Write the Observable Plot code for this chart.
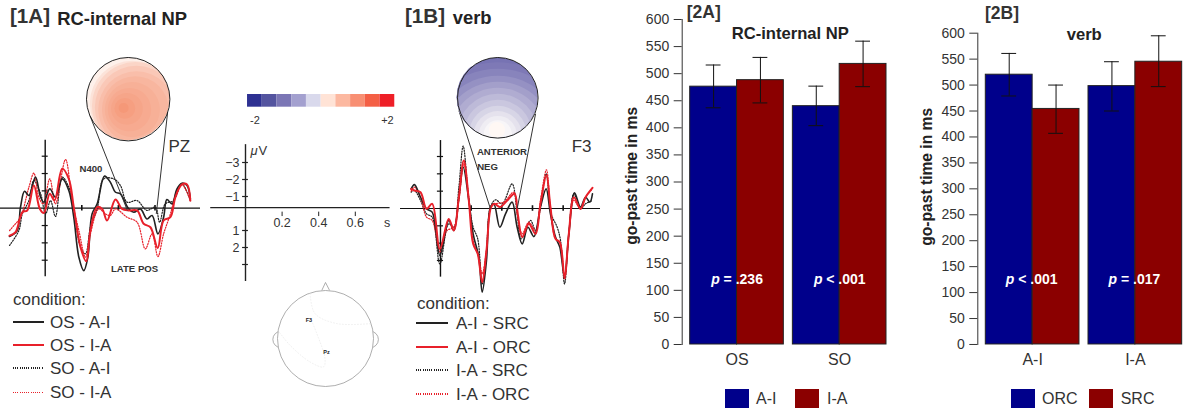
<!DOCTYPE html>
<html><head><meta charset="utf-8">
<style>
html,body{margin:0;padding:0;background:#fff}
#fig{position:relative;width:1184px;height:410px;overflow:hidden;font-family:"Liberation Sans",Arial,sans-serif;color:#333}
#fig svg{position:absolute;overflow:visible}
.t{position:absolute;white-space:nowrap;line-height:1}
.b{font-weight:bold}
.sw{position:absolute}
</style>
<script src="https://cdn.jsdelivr.net/npm/d3@7"></script>
<script src="https://cdn.jsdelivr.net/npm/@observablehq/plot@0.6"></script>
</head><body><div id="fig"></div>
<script>
// ---------- ERP curves, time in s, amplitude in microvolt (negative up) ----------
const a_os_ai_t=[-.195,-.153,-.135,-.113,-.089,-.053,-.025,-.007,.025,.056,.093,.129,.156,.184,.211,.233,.256,.284,.324,.356,.384,.411,.456,.484,.52,.556,.584,.616,.647,.665,.693,.72,.747,.775,.793];
const a_os_ai_v=[1.63,1.29,-.06,-.98,-.73,-1.79,-.63,-.35,-1.12,-.63,-1.69,-1.02,.52,2.83,3.6,2.83,.33,-.25,-1.85,-1.5,-.92,-.83,.04,.23,.04,.62,.42,1.48,.52,-.5,-.25,-1.12,-1.44,-1.31,-.54];
const a_os_ia_t=[-.195,-.162,-.125,-.098,-.062,-.029,-.007,.025,.051,.093,.129,.156,.193,.224,.247,.284,.311,.338,.384,.42,.456,.502,.538,.575,.615,.647,.684,.711,.747,.775,.793];
const a_os_ia_v=[1.58,1.38,.23,.13,-1.31,.04,.27,-.83,-.44,-2.27,-1.69,-.06,2.25,3.06,1.29,-.06,.04,.71,-.5,.04,.13,.13,.9,1.1,2.29,.71,.52,-.63,-1.37,-1.37,-.44];
const a_so_ai_t=[-.195,-.144,-.125,-.089,-.062,-.025,.002,.029,.056,.093,.129,.16,.193,.22,.247,.284,.32,.375,.411,.447,.502,.556,.602,.625,.656,.702,.747,.793];
const a_so_ai_v=[2.15,1.29,.33,-.44,-1.6,-.83,.33,-.44,.48,-1.79,-1.21,.33,2.25,2.63,1.1,.04,-1.69,-1.69,-1.31,-.35,-.44,.13,-.06,.81,-.25,-.44,-1.4,-.44];
const a_so_ia_t=[-.195,-.171,-.135,-.089,-.062,-.035,-.011,.025,.056,.111,.147,.184,.22,.247,.293,.329,.356,.384,.447,.502,.547,.584,.616,.647,.684,.72,.747,.793];
const a_so_ia_v=[1.29,1,.52,-1.21,-2.02,-.63,-.25,-1.69,-.25,-2.81,-.44,1.29,2.83,1.48,.04,.33,.42,.04,.52,.81,2.35,1.48,2.79,1.48,.33,-1.02,-1.37,-.44];

const b_ai_src_t=[-.191,-.17,-.13,-.091,-.054,-.004,.054,.087,.12,.148,.185,.213,.25,.272,.3,.326,.348,.387,.424,.467,.5,.533,.57,.609,.652,.689,.717,.75,.778,.809,.837,.874,.913,.946,.974,.991];
const b_ai_src_v=[-1.13,-1.38,-.65,.02,.21,2.71,.69,1.27,-.65,-2.38,-.46,1.46,2.81,4.83,3,-.08,-.27,1.08,.31,-.37,1.08,2.04,1.08,1.62,-.08,-1.13,.31,1.65,2.23,3.96,1.46,-.9,-.08,-.65,-.37,-.85];
const b_ai_orc_t=[-.191,-.17,-.13,-.091,-.054,-.004,.054,.087,.12,.152,.185,.213,.243,.272,.3,.33,.352,.387,.435,.483,.504,.533,.576,.62,.652,.691,.717,.75,.778,.809,.837,.87,.913,.946,.991];
const b_ai_orc_v=[-1.13,-1.04,-.94,.02,-.27,2.33,.6,1.27,-.65,-2.77,-.46,2.04,2.62,4.25,2.42,-.08,-.27,-.08,-.46,-.85,.31,1.65,.88,1.46,-.27,-1.9,-.08,1.75,1.94,3.96,1.46,-.65,.02,-.65,-1.19];
const b_ia_src_t=[-.191,-.17,-.13,-.091,-.054,-.004,.054,.087,.12,.148,.185,.213,.243,.272,.3,.326,.359,.402,.467,.5,.526,.587,.62,.652,.689,.722,.761,.783,.809,.837,.87,.913,.946,.991];
const b_ia_src_v=[-.94,-1.04,-.46,.31,.5,3.19,.88,1.08,-1.23,-3.6,-.46,1.08,1.75,4.35,2.42,-.08,-.5,-.27,-1.42,.31,1.75,.69,1.27,-.08,-2,.31,1.08,1.85,4.35,1.46,-.85,.02,-.27,-.46];
const b_ia_orc_t=[-.191,-.17,-.13,-.091,-.054,-.004,.043,.087,.12,.152,.185,.213,.25,.272,.3,.33,.359,.413,.478,.504,.533,.576,.62,.652,.691,.717,.75,.778,.809,.837,.87,.913,.946,.991];
const b_ia_orc_v=[-1,-1.23,-.65,.5,.69,2.52,1.27,1.08,-.46,-2.58,-.65,1.85,2.81,3.77,2.42,-.08,-.27,-.37,-.94,.5,1.46,.79,1.27,-.46,-2.23,-.08,1.75,1.94,4.06,1.46,-.46,.02,-.65,-1.13];

const aYTicks=[-3,-2,-1,1,2,3], aXTicks=[.2,.4,.6], bXTicks=[.2,.4,.6,.8];
// leader lines from topography to time window
const aLeadT1=[.244,.669], aLeadV1=[-5.35,-5.54], aLeadT2=[.449,.607], aLeadV2=[.13,.33];
const bLeadT1=[.12,.62], bLeadV1=[-5.65,-5.46], bLeadT2=[.326,.5], bLeadV2=[.02,.02];
const aNotes=["N400","LATE POS"], aNoteT=[.25,.488], aNoteV=[-2.29,3.48];
const bNotes=["ANTERIOR","NEG"], bNoteT=[.401,.307], bNoteV=[-3.29,-2.42];

// ---------- topography bands (head units) ----------
const topoA_x=[0,.1,.18,.2,.2,.17,.1,.03,-.03,-.08,-.11];
const topoA_y=[0,-.1,-.16,-.2,-.25,-.25,-.25,-.25,-.23,-.22,-.21];
const topoA_r=[1,1.02,1.05,1,.92,.8,.66,.52,.38,.25,.12];
const topoA_v=[.12,.26,.4,.52,.62,.7,.76,.82,.87,.93,1];
const topoB_x=[0,0,0,0,0,0,0,0,0,0,0,0,-.02];
const topoB_y=[0,-1.32,-1.18,-1.05,-1,-.95,-.9,-.9,-.92,-.93,-.92,-.91,-.8];
const topoB_r=[1,2.2,1.9,1.6,1.4,1.2,1,.85,.72,.6,.47,.35,.2];
const topoB_v=[-1.05,-.98,-.9,-.8,-.7,-.6,-.5,-.4,-.3,-.2,-.12,-.05,.05];
const topoDomain=[-2,-1,0,1,2];

// ---------- colour bar ----------
const barSteps=[-1.8,-1.4,-1,-.6,-.2,.2,.6,1,1.4,1.8];

// ---------- bar charts ----------
const g2A=["OS","SO"], s2A=["A-I","I-A"];
const m2A_AI=[476,440], m2A_IA=[488,518];
const lo2A_AI=[437,404], lo2A_IA=[446,476];
const hi2A_AI=[516,477], hi2A_IA=[530,560];
const p2A_rel=["= .236","< .001"];
const g2B=["A-I","I-A"], s2B=["ORC","SRC"];
const m2B_ORC=[520,498], m2B_SRC=[454,545];
const lo2B_ORC=[479,450], lo2B_SRC=[407,497];
const hi2B_ORC=[561,545], hi2B_SRC=[500,595];
const p2B_rel=["< .001","= .017"];
const yTicks=[0,50,100,150,200,250,300,350,400,450,500,550,600];

const fig=document.getElementById("fig");
const FONT='"Liberation Sans",Arial,sans-serif';
function add(svg,left,top){svg.style.left=left+"px";svg.style.top=top+"px";fig.appendChild(svg);return svg}
function text(s,left,cy,size,opts={}){const d=document.createElement("div");d.className="t"+(opts.bold?" b":"");d.textContent=s;d.style.left=left+"px";d.style.top=(cy-size/2)+"px";d.style.fontSize=size+"px";if(opts.color)d.style.color=opts.color;fig.appendChild(d);return d}
function swatchLine(left,cy,w,color,dotted){const d=document.createElement("div");d.className="sw";d.style.cssText+=`left:${left}px;top:${cy-1}px;width:${w}px;height:${dotted?1.5:1.7}px;background:${dotted?`repeating-linear-gradient(90deg,${color} 0 1px,transparent 1px 2.2px)`:color}`;fig.appendChild(d)}
function swatchBox(left,top,w,h,color){const d=document.createElement("div");d.className="sw";d.style.cssText+=`left:${left}px;top:${top}px;width:${w}px;height:${h}px;background:${color}`;fig.appendChild(d)}
const zip=(t,v)=>t.map((x,i)=>({t:x,v:v[i]}));
const baseStyle={background:"transparent",fontFamily:FONT,color:"#333"};

function erp(cfg){
  const lc={curve:"catmull-rom",x:"t",y:"v"};
  return Plot.plot({
    width:cfg.w,height:312,margin:0,style:baseStyle,
    x:{domain:cfg.xd,range:cfg.xr,axis:null},
    y:{domain:[-12,6],range:cfg.yr,axis:null},
    marks:[
      Plot.ruleY([0],{stroke:"#111",strokeWidth:1.2}),
      Plot.ruleX([0],{y1:-3.92,y2:3.96,stroke:"#111",strokeWidth:1.4}),
      Plot.ruleY(aYTicks,{x1:-cfg.htick,x2:cfg.htick,stroke:"#111",strokeWidth:1.2}),
      Plot.ruleX(cfg.xticks,{y1:-.16,y2:.16,stroke:"#111",strokeWidth:1.6}),
      Plot.line(zip(...cfg.dk),{...lc,stroke:"#222",strokeWidth:1.2,strokeDasharray:"1.2,1.5"}),
      Plot.line(zip(...cfg.dr),{...lc,stroke:"#e8202a",strokeWidth:1.2,strokeDasharray:"1.2,1.5"}),
      Plot.line(zip(...cfg.sk),{...lc,stroke:"#222",strokeWidth:1.6}),
      Plot.line(zip(...cfg.sr),{...lc,stroke:"#e8202a",strokeWidth:2}),
      Plot.link(cfg.lead[0],{x1:(d,i)=>cfg.lead[0][i],y1:(d,i)=>cfg.lead[1][i],x2:(d,i)=>cfg.lead[2][i],y2:(d,i)=>cfg.lead[3][i],stroke:"#333",strokeWidth:1}),
      Plot.text(cfg.notes,{x:(d,i)=>cfg.noteT[i],y:(d,i)=>cfg.noteV[i],text:d=>d,fontSize:9.6,fontWeight:"bold",fill:"#333",textAnchor:"middle"}),
      Plot.text([cfg.site],{x:cfg.siteT,y:-3.56,text:d=>d,fontSize:17,fill:"#333"})
    ]});
}
add(erp({w:200,xd:[-.2,.795],xr:[8.1,190.2],yr:[-.3,311.7],htick:.0164,xticks:aXTicks,
  sk:[a_os_ai_t,a_os_ai_v],sr:[a_os_ia_t,a_os_ia_v],dk:[a_so_ai_t,a_so_ai_v],dr:[a_so_ia_t,a_so_ia_v],
  lead:[aLeadT1,aLeadV1,aLeadT2,aLeadV2],notes:aNotes,noteT:aNoteT,noteV:aNoteV,site:"PZ",siteT:.733}),0,0);
add(erp({w:200,xd:[-.2,.99],xr:[9.3,191.8],yr:[0,312],htick:.02,xticks:bXTicks,
  sk:[b_ai_src_t,b_ai_src_v],sr:[b_ai_orc_t,b_ai_orc_v],dk:[b_ia_src_t,b_ia_src_v],dr:[b_ia_orc_t,b_ia_orc_v],
  lead:[bLeadT1,bLeadV1,bLeadT2,bLeadV2],notes:bNotes,noteT:bNoteT,noteV:bNoteV,site:"F3",siteT:.92}),400,0);

function topo(xs,ys,rs,vs,R){
  const rows=rs.map((r,i)=>({x:xs[i],y:ys[i],r,v:vs[i]}));
  const size=2*R+4;
  const fills=Plot.plot({width:size,height:size,margin:2,style:baseStyle,
    x:{domain:[-1,1],axis:null},y:{domain:[-1,1],axis:null},
    r:{type:"linear",domain:[0,1],range:[0,R]},
    color:{type:"linear",domain:topoDomain,range:["#2e3192","#7b76b5","#fffdfb","#f59878","#ee1f27"],interpolate:"rgb"},
    marks:[ Plot.dot(rows,{x:"x",y:"y",r:"r",fill:"v",sort:null}) ]});
  fills.style.clipPath=`circle(${R}px at 50% 50%)`;
  const ring=Plot.plot({width:size,height:size,margin:2,style:baseStyle,
    x:{domain:[-1,1],axis:null},y:{domain:[-1,1],axis:null},
    r:{type:"linear",domain:[0,1],range:[0,R]},
    marks:[ Plot.dot(rows.slice(0,1),{x:"x",y:"y",r:"r",stroke:"#222",strokeWidth:1}) ]});
  return [fills,ring];
}
topo(topoA_x,topoA_y,topoA_r,topoA_v,41.7).forEach(s=>add(s,127.7-43.7,98.3-43.7));
topo(topoB_x,topoB_y,topoB_r,topoB_v,40.3).forEach(s=>add(s,497-42.3,97.3-42.3));

// ---------- colour bar ----------
add(Plot.plot({width:147.3,height:34,marginTop:0,marginLeft:0,marginRight:0,marginBottom:21.3,style:baseStyle,
  x:{domain:barSteps,padding:0,round:false,label:null},
  color:{type:"ordinal",domain:barSteps,range:["#2e3192","#54549f","#7b76b5","#a3a0cf","#d9d9ec","#ffe3d6","#fcb8a0","#f88f73","#f45f45","#ee1f27"]},
  marks:[
    Plot.cell(barSteps,{x:d=>d,fill:d=>d}),
    Plot.axisX([barSteps[0],barSteps[9]],{tickSize:0,tickPadding:9,fontSize:11,label:null,tickFormat:d=>d<0?"-2":"+2"})
  ]}),246.7,94);

// ---------- calibration axes ----------
const calY=[-3,-2,-1,1,2,3], calLabY=[-3,-2,-1,1,2], calX=[.2,.4,.6];
add(Plot.plot({width:195,height:300,margin:0,style:baseStyle,
  x:{domain:[-.2,.8],range:[3.4,186.4],axis:null},
  y:{domain:[-12,5],range:[9,298],axis:null},
  marks:[
    Plot.ruleY([-.35],{x1:-.19,x2:.79,stroke:"#222",strokeWidth:1.2}),
    Plot.ruleX([0],{y1:-4.05,y2:4,stroke:"#222",strokeWidth:1.4}),
    Plot.ruleY(calY,{x1:-.016,x2:.016,stroke:"#222",strokeWidth:1.2}),
    Plot.ruleX(calX,{y1:-.08,y2:.18,stroke:"#222",strokeWidth:1}),
    Plot.text(calLabY,{x:0,y:d=>d,text:d=>d<0?"\u2212"+(-d):""+d,textAnchor:"end",dx:-6,fontSize:12.5,fill:"#333"}),
    Plot.text(calX,{x:d=>d,y:.57,text:d=>d.toFixed(1),fontSize:12.5,fill:"#333"}),
    Plot.text(["s"],{x:.774,y:.55,text:d=>d,fontSize:12.5,fill:"#333"}),
    Plot.text(["\u03bc"],{x:.027,y:-3.7,text:d=>d,fontStyle:"italic",textAnchor:"start",fontSize:13,fill:"#333"}),
    Plot.text(["V"],{x:.071,y:-3.7,text:d=>d,textAnchor:"start",fontSize:13,fill:"#333"})
  ]}),205,0);

// ---------- electrode map ----------
const noseX=[-.075,0,.083], noseY=[1.006,1.167,1.006];
const earX=[-.925,.93], earY=[-.02,-.02], earR=[.172,.172];
const headX=[0], headY=[0], headR=[1];
const siteNames=["F3","Pz"], siteX=[-.346,.02], siteY=[.3875,-.28];
const contour1X=[-.99,-.74,-.32,-.04,-.01,-.18,-.28], contour1Y=[.17,-.14,-.49,-.59,-.42,.1,.35];
const contour2X=[-.32,-.22,.24,.93], contour2Y=[.94,.52,.31,.31];
const xy=(a,b)=>a.map((x,i)=>({x,y:b[i]}));
add(Plot.plot({width:120,height:120,margin:0,style:baseStyle,
  x:{domain:[-1.25,1.25],range:[0,120],axis:null},
  y:{domain:[-1.25,1.25],range:[120,0],axis:null},
  r:{type:"linear",domain:[0,1],range:[0,48]},
  marks:[
    Plot.line(xy(noseX,noseY),{x:"x",y:"y",stroke:"#999",strokeWidth:.8}),
    Plot.dot(earX,{x:d=>d,y:(d,i)=>earY[i],r:(d,i)=>earR[i],fill:"#fff",stroke:"#999",strokeWidth:.8}),
    Plot.dot(headX,{x:d=>d,y:(d,i)=>headY[i],r:(d,i)=>headR[i],fill:"#fff",stroke:"#999",strokeWidth:.8}),
    Plot.line(xy(contour1X,contour1Y),{x:"x",y:"y",stroke:"#e6e6e6",strokeWidth:.6,strokeDasharray:"1,2",curve:"catmull-rom"}),
    Plot.line(xy(contour2X,contour2Y),{x:"x",y:"y",stroke:"#e6e6e6",strokeWidth:.6,strokeDasharray:"1,2",curve:"catmull-rom"}),
    Plot.text(siteNames,{x:(d,i)=>siteX[i],y:(d,i)=>siteY[i],text:d=>d,fontSize:5.5,fontWeight:"bold",fill:"#222"})
  ]}),265.3,278.3);

// ---------- bar charts ----------
function bars(cfg){
  const rows=[];
  cfg.groups.forEach((g,i)=>cfg.series.forEach((s,j)=>rows.push({g,s,v:cfg.m[j][i],lo:cfg.lo[j][i],hi:cfg.hi[j][i]})));
  const pr=cfg.groups.map((g,i)=>({g,rel:cfg.rel[i]}));
  return Plot.plot({width:cfg.w,height:370,marginLeft:cfg.ml,marginRight:cfg.mr,marginTop:cfg.mt,marginBottom:26,style:baseStyle,
    fx:{domain:cfg.groups,paddingInner:.088,paddingOuter:0,round:false,axis:null},
    x:{domain:cfg.series,padding:0,round:false,axis:null},
    y:{domain:[0,600],axis:null},
    color:{domain:cfg.series,range:["#00008b","#8b0000"]},
    marks:[
      Plot.barY(rows,{fx:"g",x:"s",y:"v",fill:"s",stroke:"#222",strokeWidth:1}),
      Plot.ruleX(rows,{fx:"g",x:"s",y1:"lo",y2:"hi",stroke:"#111",strokeWidth:1}),
      Plot.tickY(rows,{fx:"g",x:"s",y:"lo",insetLeft:16,insetRight:16,stroke:"#111",strokeWidth:1}),
      Plot.tickY(rows,{fx:"g",x:"s",y:"hi",insetLeft:16,insetRight:16,stroke:"#111",strokeWidth:1}),
      Plot.text(pr,{fx:"g",y:cfg.py,text:()=>"p",fontStyle:"italic",fontWeight:"bold",fontSize:14,fill:"#fff",dx:cfg.pdx-21.5}),
      Plot.text(pr,{fx:"g",y:cfg.py,text:"rel",fontWeight:"bold",fontSize:14,fill:"#fff",textAnchor:"start",dx:cfg.pdx-13.4}),
      Plot.axisFx({anchor:"bottom",tickSize:0,tickPadding:9,fontSize:16,label:null,fill:"#333"}),
      Plot.axisY({ticks:yTicks,anchor:"left",dx:-8,tickSize:8,tickPadding:5,fontSize:14,label:null,stroke:"#333",fill:"#333"}),
      Plot.frame({anchor:"left",dx:-8,facetAnchor:"left",stroke:"#333"})
    ]});
}
add(bars({w:266,ml:69.7,mr:0,mt:19,groups:g2A,series:s2A,m:[m2A_AI,m2A_IA],lo:[lo2A_AI,lo2A_IA],hi:[hi2A_AI,hi2A_IA],rel:p2A_rel,py:119.4,pdx:0}),620,0);
add(bars({w:281.7,ml:85.3,mr:0,mt:32.7,groups:g2B,series:s2B,m:[m2B_ORC,m2B_SRC],lo:[lo2B_ORC,lo2B_SRC],hi:[hi2B_ORC,hi2B_SRC],rel:p2B_rel,py:124.6,pdx:-1}),900,0);

// rotated y labels
function rot(s,cx,cy,size){const d=text(s,cx,cy,size,{bold:true,color:"#222"});d.style.transform="translate(-50%,0) rotate(-90deg)";d.style.transformOrigin="50% 50%";}
rot("go-past time in ms",631.7,176,15.6);
rot("go-past time in ms",926.7,176.7,15.6);

// ---------- text ----------
text("[1A]",10,16.5,20.6,{bold:true,color:"#333"});
text("RC-internal NP",57.3,19,18.4,{bold:true,color:"#222"});
text("[1B]",405,16,20.6,{bold:true,color:"#333"});
text("verb",452.7,18,18.4,{bold:true,color:"#222"});
text("[2A]",686.7,13,17.5,{bold:true,color:"#333"});
text("RC-internal NP",731.7,34.7,16.6,{bold:true,color:"#222"});
text("[2B]",985,13.5,17.5,{bold:true,color:"#333"});
text("verb",1066.7,35,16.6,{bold:true,color:"#222"});

// ---------- legends ----------
const legA=["OS - A-I","OS - I-A","SO - A-I","SO - I-A"];
const legB=["A-I - SRC","A-I - ORC","I-A - SRC","I-A - ORC"];
const legColors=["#222","#e8202a","#222","#e8202a"];
const legAy=[322.3,345,368,392.7], legBy=[323,347,370,394];
text("condition:",13,299.3,17);
legA.forEach((s,i)=>{swatchLine(12.5,legAy[i],31,legColors[i],i>1);text(s,50,legAy[i],17)});
text("condition:",417,303,17);
legB.forEach((s,i)=>{swatchLine(416,legBy[i],32,legColors[i],i>1);text(s,456,legBy[i],17)});

swatchBox(725,389,24,19,"#00008b");text("A-I",756,399,16);
swatchBox(795,389,24,19,"#8b0000");text("I-A",827,399,16);
swatchBox(1011,389,24,19,"#00008b");text("ORC",1042,399,16);
swatchBox(1089,389,24,19,"#8b0000");text("SRC",1120.7,399,16);
</script></body></html>
